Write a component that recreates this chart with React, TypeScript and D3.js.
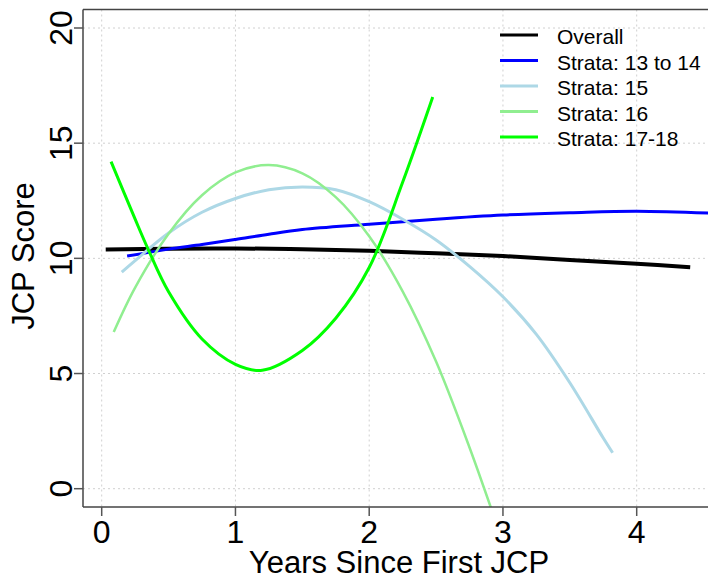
import React from "react";
import * as d3 from "d3";

const overallX = [0.03, 0.5, 1.0, 1.5, 2.0, 2.5, 3.0, 3.5, 4.0, 4.4];
const overallY = [10.38, 10.42, 10.43, 10.4, 10.33, 10.22, 10.1, 9.93, 9.77, 9.61];

const s1314X = [0.19, 0.5, 0.75, 1.0, 1.25, 1.5, 2.0, 2.5, 3.0, 3.5, 4.0, 4.6];
const s1314Y = [10.1, 10.4, 10.6, 10.82, 11.05, 11.25, 11.48, 11.7, 11.88, 11.98, 12.05, 11.95];

const s15X = [0.15, 0.25, 0.5, 0.75, 1.0, 1.25, 1.5, 1.75, 2.0, 2.25, 2.5, 2.75, 3.0, 3.25, 3.5, 3.75, 3.82];
const s15Y = [9.4, 9.9, 11.1, 12.0, 12.6, 12.98, 13.1, 12.98, 12.46, 11.7, 10.8, 9.65, 8.33, 6.7, 4.6, 2.2, 1.56];

const s16X = [0.09, 0.25, 0.5, 0.75, 1.0, 1.25, 1.5, 1.75, 2.0, 2.25, 2.5, 2.75, 2.95];
const s16Y = [6.8, 8.73, 11.07, 12.74, 13.73, 14.05, 13.69, 12.66, 10.96, 8.57, 5.52, 1.79, -1.5];

const s1718X = [0.07, 0.25, 0.35, 0.5, 0.75, 1.0, 1.2, 1.5, 1.75, 2.0, 2.25, 2.475];
const s1718Y = [14.2, 11.7, 10.36, 8.55, 6.5, 5.4, 5.14, 6.0, 7.4, 9.6, 13.3, 17.0];

const seriesNames = ["Overall", "Strata: 13 to 14", "Strata: 15", "Strata: 16", "Strata: 17-18"];
const seriesColors = ["#000000", "#0000ff", "#add8e6", "#90ee90", "#00ff00"];
const seriesWidths = [4, 3, 3, 2.5, 3];
const seriesXs = [overallX, s1314X, s15X, s16X, s1718X];
const seriesYs = [overallY, s1314Y, s15Y, s16Y, s1718Y];

const xTicks = [0, 1, 2, 3, 4];
const yTicks = [0, 5, 10, 15, 20];

const FONT = "'Liberation Sans', Arial, Helvetica, sans-serif";

export default function App() {
  const W = 708;
  const H = 580;
  const left = 83;
  const top = 9.5;
  const bottom = 507;
  const right = 716;

  const x = d3.scaleLinear().domain([0, 4]).range([101.7, 636.7]);
  const y = d3.scaleLinear().domain([0, 20]).range([488.7, 28]);

  const line = d3
    .line<[number, number]>()
    .x((d) => x(d[0]))
    .y((d) => y(d[1]))
    .curve(d3.curveCatmullRom.alpha(0.5));

  return (
    <svg
      width={W}
      height={H}
      style={{ position: "absolute", left: 0, top: 0, background: "#fff" }}
      fontFamily={FONT}
    >
      <defs>
        <clipPath id="plotclip">
          <rect x={left} y={top} width={right - left} height={bottom - top} />
        </clipPath>
      </defs>
      {/* grid */}
      <g stroke="#d0d0d0" strokeWidth={1} strokeDasharray="2 3">
        {xTicks.map((t) => (
          <line key={"gx" + t} x1={x(t)} x2={x(t)} y1={top} y2={bottom} />
        ))}
        {yTicks.map((t) => (
          <line key={"gy" + t} x1={left} x2={right} y1={y(t)} y2={y(t)} />
        ))}
      </g>
      {/* series */}
      <g clipPath="url(#plotclip)" fill="none" strokeLinecap="butt" strokeLinejoin="round">
        {seriesNames.map((n, i) => {
          const pts: [number, number][] = seriesXs[i].map((xv, j) => [xv, seriesYs[i][j]]);
          return (
            <path
              key={n}
              d={line(pts) || ""}
              stroke={seriesColors[i]}
              strokeWidth={seriesWidths[i]}
            />
          );
        })}
      </g>
      {/* frame */}
      <g stroke="#444" strokeWidth={1.5} fill="none">
        <line x1={left} x2={right} y1={top} y2={top} />
        <line x1={left} x2={left} y1={top} y2={bottom} />
        <line x1={left} x2={right} y1={bottom} y2={bottom} />
      </g>
      {/* ticks */}
      <g stroke="#555" strokeWidth={1.5}>
        {xTicks.map((t) => (
          <line key={"tx" + t} x1={x(t)} x2={x(t)} y1={bottom} y2={bottom + 9} />
        ))}
        {yTicks.map((t) => (
          <line key={"ty" + t} x1={left - 9} x2={left} y1={y(t)} y2={y(t)} />
        ))}
      </g>
      {/* tick labels */}
      <g fontSize={32} fill="#000">
        {xTicks.map((t) => (
          <text key={"lx" + t} x={x(t)} y={543} textAnchor="middle">
            {t}
          </text>
        ))}
        {yTicks.map((t) => (
          <text
            key={"ly" + t}
            transform={`translate(72,${y(t)}) rotate(-90)`}
            textAnchor="middle"
          >
            {t}
          </text>
        ))}
      </g>
      {/* axis titles */}
      <text x={399} y={573} fontSize={31} textAnchor="middle" fill="#000">
        Years Since First JCP
      </text>
      <text transform="translate(34,256) rotate(-90)" fontSize={31} textAnchor="middle" fill="#000">
        JCP Score
      </text>
      {/* legend */}
      <g>
        {seriesNames.map((n, i) => {
          const ly = 35 + i * 25.5;
          return (
            <g key={"lg" + n}>
              <line x1={500} x2={538} y1={ly} y2={ly} stroke={seriesColors[i]} strokeWidth={3} />
              <text x={557} y={ly + 9.3} fontSize={21} fill="#000">
                {n}
              </text>
            </g>
          );
        })}
      </g>
    </svg>
  );
}
